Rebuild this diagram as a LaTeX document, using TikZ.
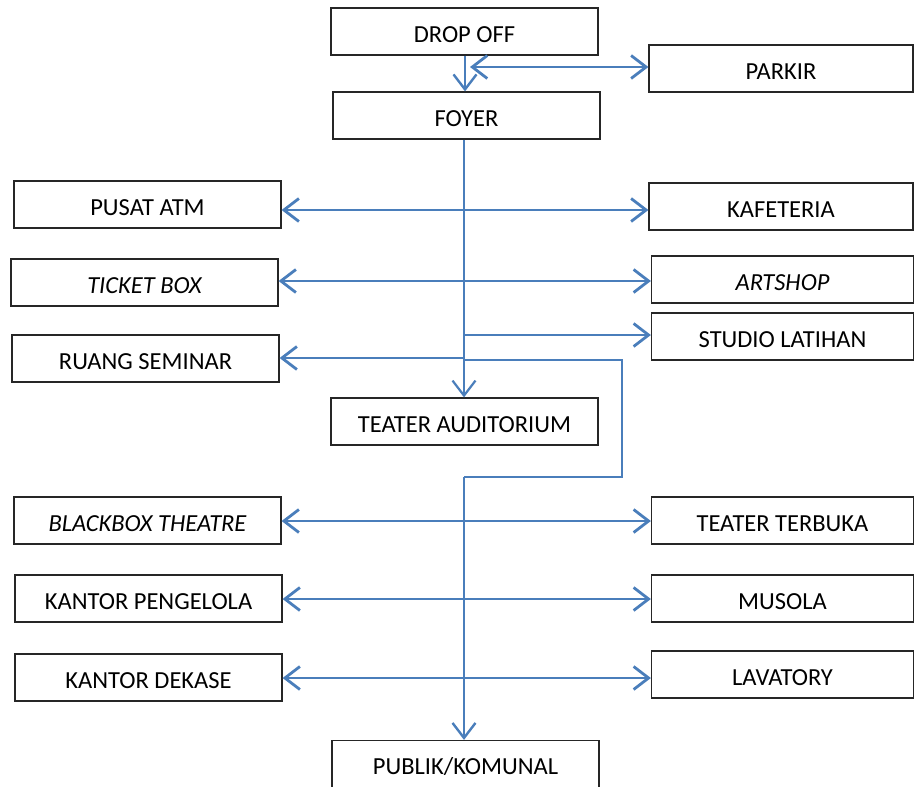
\documentclass[tikz,border=0pt]{standalone}
\usepackage{fontspec}
\setmainfont{Carlito}
\usetikzlibrary{arrows.meta}
\definecolor{flowblue}{RGB}{74,126,187}
\begin{document}
\begin{tikzpicture}[x=1pt,y=-1pt,
  room/.style={draw=black!85, line width=1.2pt, minimum width=267pt, minimum height=47pt,
    inner sep=0pt, text height=21.5pt, text depth=0pt, font=\fontsize{24.5}{28}\selectfont},
  sideroom/.style={room, minimum width=262pt},
  link/.style={draw=flowblue, line width=2.8pt, -{Straight Barb[length=15pt,width=23pt]}},
  both/.style={link, {Straight Barb[length=15pt,width=23pt]}-{Straight Barb[length=15pt,width=23pt]}},
  route/.style={draw=flowblue, line width=2pt}]
\useasboundingbox (0,0) rectangle (914,787);

% rooms
\node[room] (drop) at (464.5,31.5) {DROP OFF};
\node[room] (foyer) at (466.5,115.5) {FOYER};
\node[sideroom, minimum width=264pt] (parkir) at (781,68.5) {PARKIR};
\node[room] (atm) at (147.5,204.5) {PUSAT ATM};
\node[sideroom, minimum width=264pt] (kafe) at (781,206.5) {KAFETERIA};
\node[room] (ticket) at (144.5,282.5) {\itshape TICKET BOX};
\node[sideroom] (artshop) at (782.5,279.5) {\itshape ARTSHOP};
\node[sideroom] (studio) at (782.5,336.5) {STUDIO LATIHAN};
\node[room] (seminar) at (145.5,358.5) {RUANG SEMINAR};
\node[room] (audit) at (464.5,421.5) {TEATER AUDITORIUM};
\node[room] (blackbox) at (147.5,520.5) {\itshape BLACKBOX THEATRE};
\node[sideroom] (terbuka) at (782.5,520.5) {TEATER TERBUKA};
\node[room] (pengelola) at (148.5,598.5) {KANTOR PENGELOLA};
\node[sideroom] (musola) at (782.5,598.5) {MUSOLA};
\node[room] (dekase) at (148.5,677.5) {KANTOR DEKASE};
\node[sideroom] (lavatory) at (782.5,674.5) {LAVATORY};
\node[room] (publik) at (465.5,764) {PUBLIK/KOMUNAL};

% spine and row levels
\coordinate (sp) at (464,0);
\coordinate (sp0) at (465,0);
\coordinate (r0) at (470,67);
\coordinate (r1) at (0,210);
\coordinate (r2) at (0,281);
\coordinate (r3) at (0,335);
\coordinate (r4) at (0,358);
\coordinate (rb) at (0,360);
\coordinate (bx) at (622,0);
\coordinate (rc) at (0,477);
\coordinate (r5) at (0,521);
\coordinate (r6) at (0,599);
\coordinate (r7) at (0,678);

% entrance
\draw[link, line width=2.4pt] (drop.south -| sp0) -- (foyer.north -| sp0);
\draw[both] (r0) -- (parkir.west |- r0);

% main spine to the auditorium
\draw[link, line width=2.2pt] (foyer.south -| sp) -- (audit.north -| sp);
\draw[both] (atm.east |- r1) -- (kafe.west |- r1);
\draw[link] (sp |- r2) -- (ticket.east |- r2);
\draw[link] (sp |- r2) -- (artshop.west |- r2);
\draw[link] (sp |- r3) -- (studio.west |- r3);
\draw[link] (sp |- r4) -- (seminar.east |- r4);

% route round the auditorium to the public zone
\draw[route] (sp |- rb) -- (bx |- rb) -- (bx |- rc) -- (sp |- rc);
\draw[link, line width=2.4pt] (sp |- rc) -- (publik.north -| sp);
\draw[both] (blackbox.east |- r5) -- (terbuka.west |- r5);
\draw[both] (pengelola.east |- r6) -- (musola.west |- r6);
\draw[both] (dekase.east |- r7) -- (lavatory.west |- r7);
\end{tikzpicture}
\end{document}
